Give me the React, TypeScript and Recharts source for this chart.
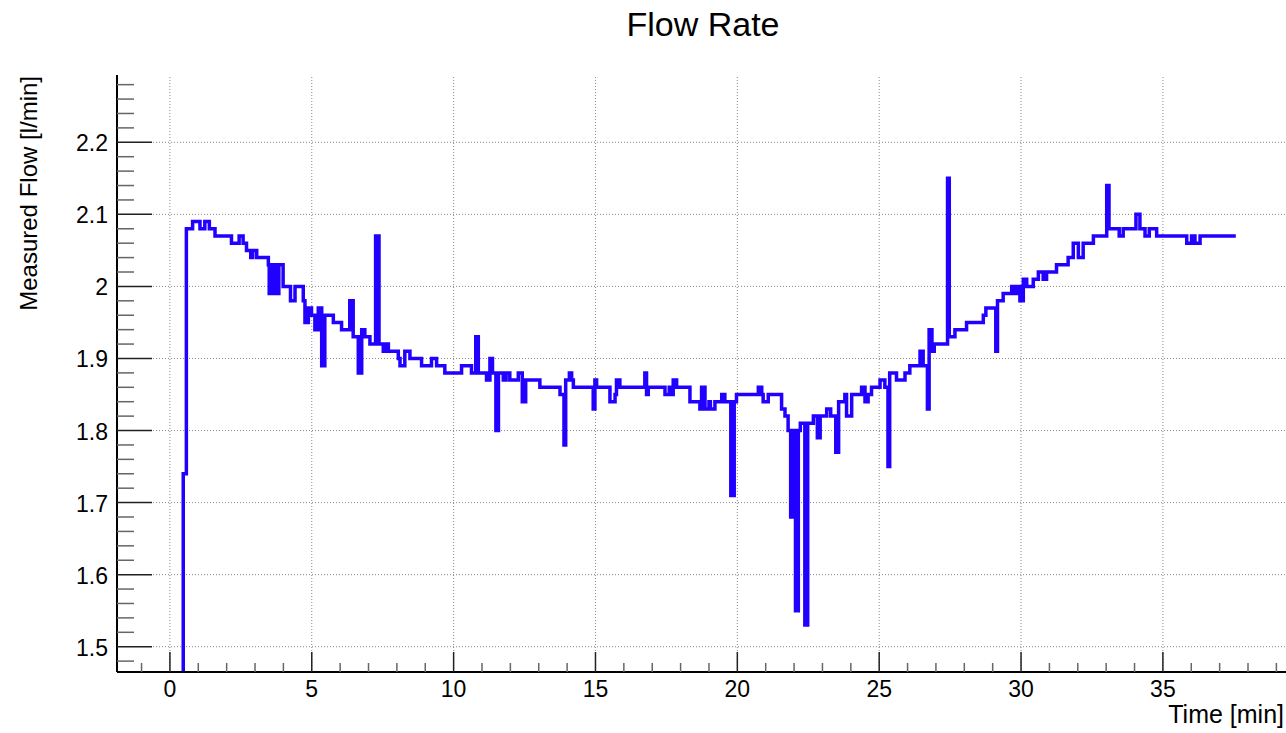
import React from 'react';
import { LineChart, Line, XAxis, YAxis, ReferenceLine } from 'recharts';

// Change points of the step series (time in minutes, flow in l/min)
const times = [
  0.42, 0.47, 0.58, 0.80, 1.06, 1.23, 1.39, 1.59, 2.17, 2.44, 2.58, 2.70, 2.85, 2.92, 3.06,
  3.47, 3.50, 3.60, 3.72, 3.84, 3.99, 4.25, 4.41, 4.70, 4.76, 4.88, 4.99, 5.11, 5.23, 5.35,
  5.46, 5.76, 6.05, 6.34, 6.46, 6.64, 6.76, 6.87, 7.05, 7.25, 7.37, 7.52, 7.60, 7.70, 8.05,
  8.11, 8.28, 8.46, 8.87, 9.22, 9.40, 9.69, 10.28, 10.63, 10.78, 10.87, 11.16, 11.28, 11.37,
  11.49, 11.58, 11.75, 11.85, 11.98, 12.28, 12.42, 12.54, 13.04, 13.75, 13.89, 13.95, 14.08,
  14.16, 14.22, 14.92, 14.98, 15.04, 15.51, 15.69, 15.74, 15.86, 16.74, 16.80, 16.86, 17.45,
  17.60, 17.66, 17.74, 17.86, 18.33, 18.68, 18.74, 18.86, 19.00, 19.05, 19.21, 19.45, 19.56,
  19.77, 19.89, 19.97, 20.74, 20.86, 20.91, 21.09, 21.56, 21.68, 21.79, 21.88, 22.00, 22.05,
  22.15, 22.22, 22.38, 22.48, 22.68, 22.82, 22.92, 23.15, 23.29, 23.47, 23.57, 23.79, 23.85,
  24.03, 24.38, 24.50, 24.61, 24.73, 25.03, 25.20, 25.31, 25.37, 25.61, 25.91, 26.08, 26.44,
  26.55, 26.70, 26.76, 26.86, 26.94, 27.41, 27.47, 27.67, 28.08, 28.67, 28.76, 29.11, 29.17,
  29.37, 29.67, 29.75, 29.85, 29.96, 30.08, 30.20, 30.43, 30.61, 30.78, 30.90, 31.25, 31.66,
  31.84, 32.02, 32.19, 32.55, 33.02, 33.10, 33.46, 33.60, 34.05, 34.19, 34.37, 34.52, 34.78,
  35.84, 36.01, 36.13, 36.31, 37.57,
];
const flow = [
  1.20, 1.74, 2.08, 2.09, 2.08, 2.09, 2.08, 2.07, 2.06, 2.07, 2.06, 2.05, 2.04, 2.05, 2.04,
  2.03, 1.99, 2.03, 1.99, 2.03, 2.00, 1.98, 2.00, 1.98, 1.95, 1.97, 1.96, 1.94, 1.97, 1.89,
  1.96, 1.95, 1.94, 1.98, 1.93, 1.88, 1.94, 1.93, 1.92, 2.07, 1.92, 1.91, 1.92, 1.91, 1.90,
  1.89, 1.91, 1.90, 1.89, 1.90, 1.89, 1.88, 1.89, 1.88, 1.93, 1.88, 1.87, 1.90, 1.88,
  1.80, 1.88, 1.87, 1.88, 1.87, 1.88, 1.84, 1.87, 1.86, 1.85, 1.78, 1.87, 1.88,
  1.87, 1.86, 1.83, 1.87, 1.86, 1.84, 1.85, 1.87, 1.86, 1.88, 1.85, 1.86, 1.85,
  1.86, 1.85, 1.87, 1.86, 1.84, 1.83, 1.86, 1.83, 1.84, 1.83, 1.84, 1.85, 1.84,
  1.71, 1.84, 1.85, 1.86, 1.85, 1.84, 1.85, 1.83, 1.82, 1.80, 1.68, 1.80, 1.55,
  1.80, 1.81, 1.53, 1.81, 1.82, 1.79, 1.82, 1.83, 1.82, 1.77, 1.84, 1.85, 1.82,
  1.85, 1.86, 1.84, 1.85, 1.86, 1.87, 1.86, 1.75, 1.88, 1.87, 1.88, 1.89, 1.91,
  1.89, 1.83, 1.94, 1.91, 1.92, 2.15, 1.93, 1.94, 1.95, 1.96, 1.97, 1.91, 1.98,
  1.99, 2.00, 1.99, 2.00, 1.98, 2.01, 2.00, 2.01, 2.02, 2.01, 2.02, 2.03, 2.04,
  2.06, 2.04, 2.06, 2.07, 2.14, 2.08, 2.07, 2.08, 2.10, 2.08, 2.07, 2.08, 2.07,
  2.06, 2.07, 2.06, 2.07, 2.07,
];

const xMajorTicks = [0, 5, 10, 15, 20, 25, 30, 35];
const xTickLabels = ['0', '5', '10', '15', '20', '25', '30', '35'];
const yMajorTicks = [1.5, 1.6, 1.7, 1.8, 1.9, 2.0, 2.1, 2.2];
const yTickLabels = ['1.5', '1.6', '1.7', '1.8', '1.9', '2', '2.1', '2.2'];
const xMinorTicks = Array.from({ length: 41 }, (_, i) => i - 1);
const yMinorTicks = Array.from({ length: 41 }, (_, i) => Math.round((1.48 + i * 0.02) * 100) / 100);

const X_DOMAIN: [number, number] = [-1.865, 39.48];
const Y_DOMAIN: [number, number] = [1.4649, 2.2934];

const data = times.map((t, i) => ({ t, v: flow[i] }));

const FONT = '"Liberation Sans", Arial, Helvetica, sans-serif';
const LINE_COLOR = '#2200ff';

const XTick = (props: any) => {
  const { x, y, payload } = props;
  const idx = xMajorTicks.findIndex((m) => Math.abs(m - payload.value) < 1e-6);
  const major = idx >= 0;
  return (
    <g>
      <line x1={x} x2={x} y1={y} y2={y - (major ? 20 : 9)} stroke={major ? '#222' : '#666'} strokeWidth={1.5} />
      {major && (
        <text x={x} y={y + 25} textAnchor="middle" fontSize={23} fontFamily={FONT} fill="#000">
          {xTickLabels[idx]}
        </text>
      )}
    </g>
  );
};

const YTick = (props: any) => {
  const { x, y, payload } = props;
  const idx = yMajorTicks.findIndex((m) => Math.abs(m - payload.value) < 1e-6);
  const major = idx >= 0;
  return (
    <g>
      <line x1={x} x2={x + (major ? 35 : 17)} y1={y} y2={y} stroke={major ? '#222' : '#666'} strokeWidth={1.5} />
      {major && (
        <text x={x - 9} y={y + 9} textAnchor="end" fontSize={23} fontFamily={FONT} fill="#000">
          {yTickLabels[idx]}
        </text>
      )}
    </g>
  );
};

export default function App() {
  return (
    <div style={{ position: 'absolute', left: 0, top: 0, width: 1286, height: 733, overflow: 'hidden', background: '#fff' }}>
      <LineChart width={1300} height={733} data={data} margin={{ top: 75, right: 10, bottom: 0, left: 0 }}>
        <XAxis
          xAxisId="top"
          orientation="top"
          type="number"
          dataKey="t"
          domain={X_DOMAIN}
          allowDataOverflow
          height={0}
          tick={false}
          tickLine={false}
          axisLine={{ stroke: '#000', strokeWidth: 2 }}
        />
        <XAxis
          type="number"
          dataKey="t"
          domain={X_DOMAIN}
          allowDataOverflow
          ticks={xMinorTicks}
          interval={0}
          tickSize={0}
          tickMargin={0}
          tickLine={false}
          tick={(p: any) => <XTick {...p} />}
          height={61}
          axisLine={{ stroke: '#000', strokeWidth: 2 }}
        />
        <YAxis
          type="number"
          domain={Y_DOMAIN}
          allowDataOverflow
          ticks={yMinorTicks}
          interval={0}
          tickSize={0}
          tickMargin={0}
          tickLine={false}
          tick={(p: any) => <YTick {...p} />}
          width={117}
          axisLine={{ stroke: '#000', strokeWidth: 2 }}
        />
        {xMajorTicks.map((v) => (
          <ReferenceLine key={'gx' + v} x={v} stroke="#888" strokeWidth={1} strokeDasharray="1 2" />
        ))}
        {yMajorTicks.map((v) => (
          <ReferenceLine key={'gy' + v} y={v} stroke="#888" strokeWidth={1} strokeDasharray="1 2" />
        ))}
        <Line
          type="stepAfter"
          dataKey="v"
          stroke={LINE_COLOR}
          strokeWidth={3.5}
          dot={false}
          isAnimationActive={false}
        />
      </LineChart>
      <svg width={1286} height={733} style={{ position: 'absolute', left: 0, top: 0, pointerEvents: 'none' }}>
        <text x={703} y={36} textAnchor="middle" fontSize={34} fontFamily={FONT} fill="#000">
          Flow Rate
        </text>
        <text transform="translate(37,76) rotate(-90)" textAnchor="end" fontSize={24} fontFamily={FONT} fill="#000">
          Measured Flow [l/min]
        </text>
        <text x={1284} y={723} textAnchor="end" fontSize={25} fontFamily={FONT} fill="#000">
          Time [min]
        </text>
      </svg>
    </div>
  );
}
